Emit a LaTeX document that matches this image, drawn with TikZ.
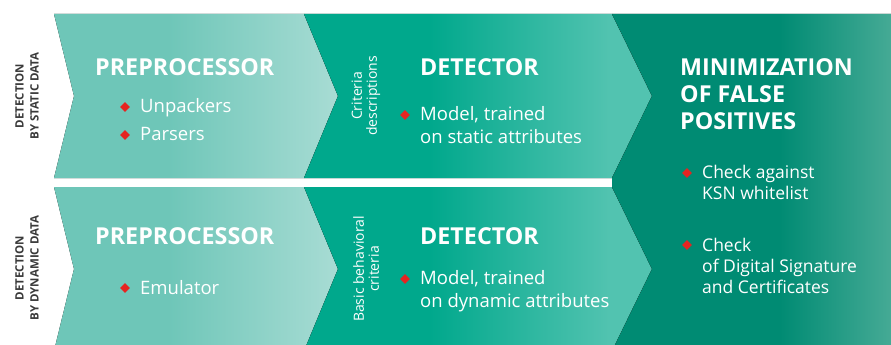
\documentclass[tikz,border=0pt]{standalone}
\usepackage{fontspec}
\setmainfont{Open Sans}
\usetikzlibrary{shapes.geometric}

\definecolor{prepleft}{HTML}{6EC6B8}
\definecolor{prepright}{HTML}{A8DCD4}
\definecolor{detleft}{HTML}{00A88C}
\definecolor{detright}{HTML}{52C3B0}
\definecolor{minleft}{HTML}{008B73}
\definecolor{minright}{HTML}{45AA95}
\definecolor{kred}{HTML}{E52421}
\definecolor{sidegray}{HTML}{3A3A3A}

\pgfdeclarehorizontalshading{prepshade}{100bp}{color(0bp)=(prepleft); color(25bp)=(prepleft); color(45bp)=(prepleft); color(75bp)=(prepright); color(100bp)=(prepright)}
\pgfdeclarehorizontalshading{detshade}{100bp}{color(0bp)=(detleft); color(25bp)=(detleft); color(43bp)=(detleft); color(69bp)=(detright); color(100bp)=(detright)}
\pgfdeclarehorizontalshading{minshade}{100bp}{color(0bp)=(minleft); color(25bp)=(minleft); color(55bp)=(minleft); color(75bp)=(minright); color(100bp)=(minright)}

\begin{document}
\begin{tikzpicture}[x=1pt,y=-1pt,
  head/.style={anchor=base west, inner sep=0pt, text=white, align=left,
    font=\bfseries\fontsize{23.3}{27}\selectfont},
  item/.style={anchor=base west, inner sep=0pt, text=white, align=left,
    font=\fontsize{18.5}{23}\selectfont},
  smallitem/.style={item, font=\fontsize{17.5}{21}\selectfont},
  dot/.style={diamond, fill=kred, inner sep=0pt, minimum size=10pt},
  rowlabel/.style={rotate=90, inner sep=0pt, text=sidegray, align=center,
    font=\bfseries\fontsize{11.5}{15}\selectfont},
  criteria/.style={rotate=90, inner sep=0pt, text=white, align=center,
    font=\fontsize{14}{15}\selectfont}]

\useasboundingbox (0,0) rectangle (891,345);

\begin{scope}
\clip (0,0) rectangle (891,345);
% static data row
\fill [shading=prepshade] (54,14) -- (304,14) -- (338,96) -- (304,178) -- (54,178) -- (74,96) -- cycle;
\fill [shading=detshade] (304,14) -- (612,14) -- (652,96) -- (612,178) -- (304,178) -- (338,96) -- cycle;
% dynamic data row
\fill [shading=prepshade] (54,187) -- (304,187) -- (338,269) -- (304,351) -- (54,351) -- (74,269) -- cycle;
\fill [shading=detshade] (304,187) -- (612,187) -- (652,269) -- (612,351) -- (304,351) -- (338,269) -- cycle;
% false positives
\fill [shading=minshade] (612,14) -- (891,14) -- (891,351) -- (612,351) -- (652,269) -- (612,187) -- (612,178) -- (652,96) -- cycle;
\end{scope}

\node [rowlabel] (staticlabel) at (27,96) {DETECTION\\BY STATIC DATA};
\node [rowlabel] (dynamiclabel) at (27,268) {DETECTION\\BY DYNAMIC DATA};

\node [head] (prepstatic) at (95,75) {PREPROCESSOR};
\node [item] (unpackers) at (140,112) {Unpackers};
\node [item] (parsers) at (140,140) {Parsers};
\node [dot] (unpackersdot) at (125,107) {};
\node [dot] (parsersdot) at (125,135) {};

\node [head] (prepdynamic) at (95,244) {PREPROCESSOR};
\node [item] (emulator) at (140,294) {Emulator};
\node [dot] (emulatordot) at (125,288) {};

\node [criteria] (criteriadesc) at (366,96) {Criteria\\descriptions};
\node [head] (detstatic) at (420,75) {DETECTOR};
\node [item] (modelstatic) at (420,143) {Model, trained\\on static attributes};
\node [dot] (modelstaticdot) at (405,115) {};

\node [criteria] (behavcrit) at (366,269) {Basic behavioral\\criteria};
\node [head] (detdynamic) at (420,244) {DETECTOR};
\node [item] (modeldynamic) at (420,307) {Model, trained\\on dynamic attributes};
\node [dot] (modeldynamicdot) at (405,279) {};

\node [head] (minhead) at (680,129) {MINIMIZATION\\OF FALSE\\POSITIVES};
\node [smallitem] (ksn) at (702,199) {Check against\\KSN whitelist};
\node [dot] (ksndot) at (687,173) {};
\node [smallitem] (signature) at (702,293) {Check\\of Digital Signature\\and Certificates};
\node [dot] (signaturedot) at (687,245) {};

\end{tikzpicture}
\end{document}
